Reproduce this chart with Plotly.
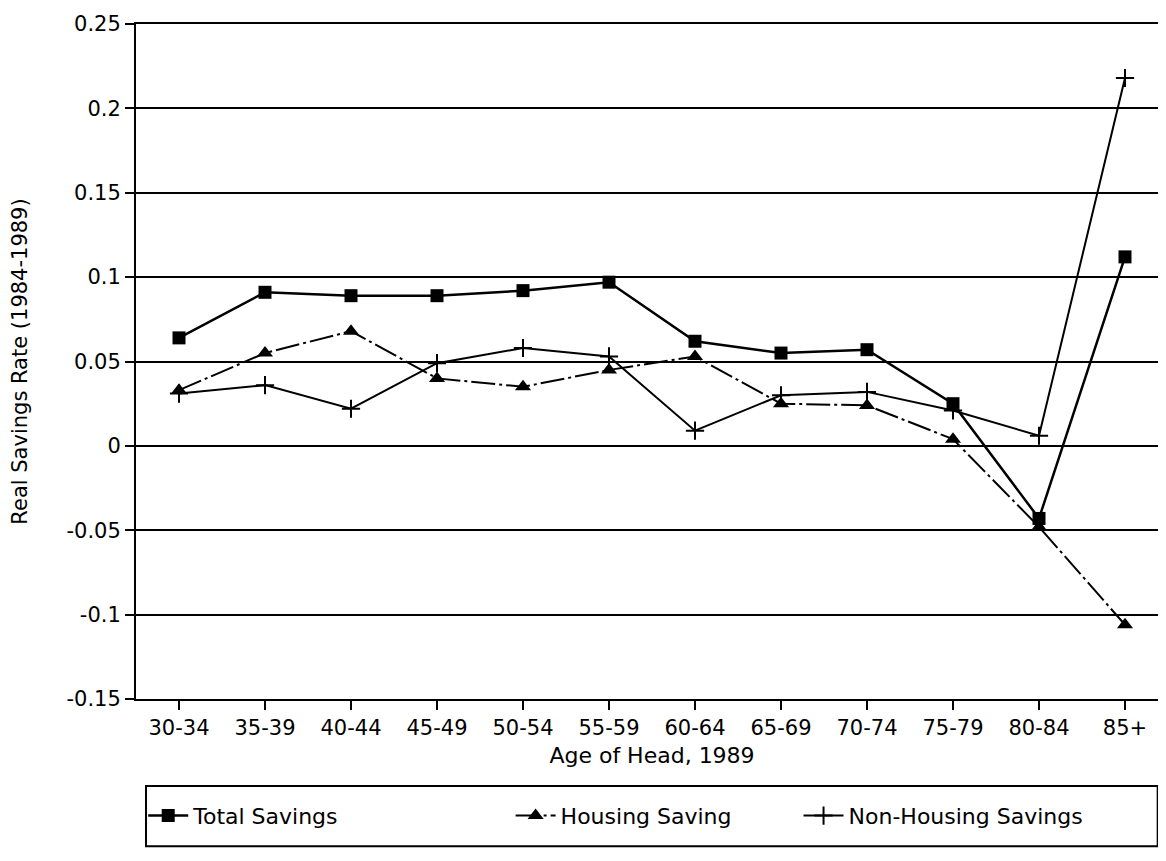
import plotly.graph_objects as go

ages = ["30-34", "35-39", "40-44", "45-49", "50-54", "55-59",
        "60-64", "65-69", "70-74", "75-79", "80-84", "85+"]
total_savings = [0.064, 0.091, 0.089, 0.089, 0.092, 0.097,
                 0.062, 0.055, 0.057, 0.025, -0.043, 0.112]
housing_saving = [0.033, 0.055, 0.068, 0.040, 0.035, 0.045,
                  0.053, 0.025, 0.024, 0.004, -0.048, -0.106]
non_housing_savings = [0.031, 0.036, 0.022, 0.049, 0.058, 0.053,
                       0.009, 0.030, 0.032, 0.021, 0.006, 0.218]
y_tick_vals = [0.25, 0.2, 0.15, 0.1, 0.05, 0, -0.05, -0.1, -0.15]
y_tick_text = ["0.25", "0.2", "0.15", "0.1", "0.05", "0", "-0.05", "-0.1", "-0.15"]

FONT = "DejaVu Sans"

fig = go.Figure()
fig.add_trace(go.Scatter(
    x=ages, y=total_savings, name="Total Savings", mode="lines+markers",
    line=dict(color="black", width=2.5),
    marker=dict(symbol="square", size=13, color="black"),
    legend="legend"))
fig.add_trace(go.Scatter(
    x=ages, y=housing_saving, name="Housing Saving", mode="lines+markers",
    line=dict(color="black", width=2, dash="24px,4px,3px,4px"),
    marker=dict(symbol="triangle-up", size=14, color="black"),
    legend="legend2"))
fig.add_trace(go.Scatter(
    x=ages, y=non_housing_savings, name="Non-Housing Savings", mode="lines+markers",
    line=dict(color="black", width=2),
    marker=dict(symbol="cross-thin", size=13, color="black",
                line=dict(color="black", width=2)),
    legend="legend3"))

legend_common = dict(orientation="h", yanchor="middle", y=-0.173,
                     xanchor="left", bgcolor="rgba(0,0,0,0)", borderwidth=0,
                     font=dict(family=FONT, size=22, color="black"),
                     itemwidth=40)

fig.update_layout(
    width=1166, height=861,
    margin=dict(l=128, r=4, t=16, b=170),
    paper_bgcolor="white", plot_bgcolor="white",
    font=dict(family=FONT, size=22, color="black"),
    showlegend=True,
    legend=dict(x=0.007, **legend_common),
    legend2=dict(x=0.363, **legend_common),
    legend3=dict(x=0.642, **legend_common),
    shapes=[dict(type="rect", xref="paper", yref="paper",
                 x0=0.0097, x1=0.990, y0=-0.218, y1=-0.129,
                 line=dict(color="black", width=2), fillcolor="rgba(0,0,0,0)")],
)
fig.update_xaxes(
    type="category", categoryorder="array", categoryarray=ages,
    range=[-0.5, 11.5],
    showline=True, mirror=True, linecolor="black", linewidth=2,
    showgrid=False, zeroline=False,
    ticks="outside", ticklen=9, tickwidth=1.5, tickcolor="black",
    tickfont=dict(family=FONT, size=21, color="black"),
    title=dict(text="Age of Head, 1989", standoff=8,
               font=dict(family=FONT, size=22, color="black")),
)
fig.update_yaxes(
    range=[-0.15, 0.25],
    tickvals=y_tick_vals, ticktext=y_tick_text,
    showline=True, mirror=True, linecolor="black", linewidth=2,
    showgrid=True, gridcolor="black", gridwidth=2, zeroline=False,
    ticks="outside", ticklen=9, tickwidth=1.5, tickcolor="black",
    tickfont=dict(family=FONT, size=21, color="black"),
    title=dict(text="Real Savings Rate (1984-1989)", standoff=33,
               font=dict(family=FONT, size=21, color="black")),
)

fig.write_html("out.html")
